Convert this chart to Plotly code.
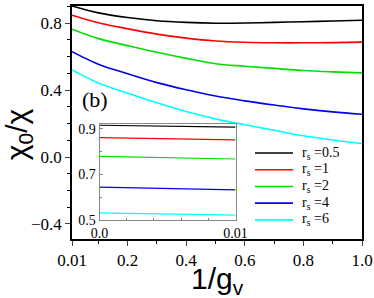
import plotly.graph_objects as go

# main panel data
x_main = [0.01, 0.1, 0.2, 0.3, 0.4, 0.5, 0.6, 0.7, 0.8, 0.9, 1.0]
chi_rs05 = [0.903, 0.862, 0.834, 0.815, 0.805, 0.800, 0.801, 0.805, 0.809, 0.813, 0.818]
chi_rs1 = [0.848, 0.803, 0.767, 0.735, 0.711, 0.694, 0.686, 0.683, 0.683, 0.684, 0.687]
chi_rs2 = [0.764, 0.708, 0.666, 0.626, 0.590, 0.558, 0.543, 0.530, 0.517, 0.509, 0.503]
chi_rs4 = [0.630, 0.555, 0.498, 0.445, 0.402, 0.365, 0.336, 0.311, 0.288, 0.270, 0.256]
chi_rs6 = [0.521, 0.443, 0.382, 0.324, 0.272, 0.228, 0.193, 0.160, 0.127, 0.102, 0.081]

# inset data
x_inset = [0.0, 0.01]
inset_rs05 = [0.915, 0.907]
inset_rs1 = [0.861, 0.851]
inset_rs2 = [0.779, 0.767]
inset_rs4 = [0.644, 0.632]
inset_rs6 = [0.531, 0.521]

rs_labels = ["0.5", "1", "2", "4", "6"]
colors = ["#000000", "#ff0000", "#00dd00", "#0000ee", "#00ffff"]

x_ticks = [0.01, 0.2, 0.4, 0.6, 0.8, 1.0]
x_ticktext = ["0.01", "0.2", "0.4", "0.6", "0.8", "1.0"]
inset_xticks = [0.0, 0.01]
inset_xticktext = ["0.0", "0.01"]
inset_yticks = [0.5, 0.7, 0.9]

serif = "Liberation Serif, Times New Roman, serif"
sans = "Liberation Sans, Arial, sans-serif"

fig = go.Figure()
main_series = [chi_rs05, chi_rs1, chi_rs2, chi_rs4, chi_rs6]
inset_series = [inset_rs05, inset_rs1, inset_rs2, inset_rs4, inset_rs6]
for lab, col, ys in zip(rs_labels, colors, main_series):
    fig.add_trace(go.Scatter(x=x_main, y=ys, mode="lines", line=dict(color=col, width=1.6, shape="spline"),
                             name=f"r<sub>s</sub> ={lab}", showlegend=False))
for lab, col, ys in zip(rs_labels, colors, inset_series):
    fig.add_trace(go.Scatter(x=x_inset, y=ys, mode="lines", line=dict(color=col, width=1.2),
                             xaxis="x2", yaxis="y2", showlegend=False))

# manual legend (key lines + labels), placed in paper coordinates
leg_x0, leg_x1, leg_tx = 0.631, 0.762, 0.786
leg_y_top, leg_dy = 0.369, 0.0717
annotations = [
    dict(text="(b)", x=0.081, y=0.597, xref="paper", yref="paper", showarrow=False,
         xanchor="center", yanchor="middle", font=dict(family=serif, size=22, color="black")),
    dict(text="χ<sub>0</sub>/χ", x=-0.186, y=0.45, xref="paper", yref="paper", showarrow=False,
         textangle=-90, xanchor="center", yanchor="middle", font=dict(family=sans, size=30, color="black")),
    dict(text="1/g<sub>v</sub>", x=0.5, y=-0.178, xref="paper", yref="paper", showarrow=False,
         xanchor="center", yanchor="middle", font=dict(family=sans, size=30, color="black")),
]
shapes = [dict(type="rect", xref="x2 domain", yref="y2 domain", x0=0, x1=1, y0=0, y1=1,
               fillcolor="white", line=dict(width=0), layer="below")]
for i, (lab, col) in enumerate(zip(rs_labels, colors)):
    yy = leg_y_top - i * leg_dy
    shapes.append(dict(type="line", xref="paper", yref="paper", x0=leg_x0, x1=leg_x1, y0=yy, y1=yy,
                       line=dict(color=col, width=1.6)))
    annotations.append(dict(text=f"r<sub>s</sub> ={lab}", x=leg_tx, y=yy, xref="paper", yref="paper",
                            showarrow=False, xanchor="left", yanchor="middle",
                            font=dict(family=serif, size=14, color="black")))

fig.update_layout(
    width=374, height=298,
    margin=dict(l=72, r=12, t=6, b=59, autoexpand=False),
    plot_bgcolor="white", paper_bgcolor="white",
    showlegend=False,
    xaxis=dict(range=[0.01, 1.0], tickvals=x_ticks, ticktext=x_ticktext, ticks="outside", ticklen=5,
               showline=True, linecolor="black", linewidth=1.5, mirror=True, showgrid=False, zeroline=False,
               automargin=False,
               tickfont=dict(family=serif, size=17, color="black"),
               minor=dict(tickvals=[0.1, 0.3, 0.5, 0.7, 0.9], ticks="outside", ticklen=3, tickcolor="black")),
    yaxis=dict(range=[-0.49, 0.903], tick0=0, dtick=0.4, tickformat=".1f", ticks="outside", ticklen=5,
               showline=True, linecolor="black", linewidth=1.5, mirror=True, showgrid=False, zeroline=False,
               automargin=False,
               tickfont=dict(family=serif, size=17, color="black"),
               minor=dict(dtick=0.1, tick0=0, ticks="outside", ticklen=3, tickcolor="black")),
    xaxis2=dict(domain=[0.095, 0.564], anchor="y2", range=[0, 0.01], tickvals=inset_xticks,
                ticktext=inset_xticktext, ticks="inside", ticklen=3, tickcolor="#888",
                showline=True, linecolor="#888", linewidth=1.2, mirror=True, showgrid=False, zeroline=False,
                automargin=False,
                tickfont=dict(family=serif, size=14, color="black"),
                minor=dict(dtick=0.002, tick0=0, ticks="inside", ticklen=2, tickcolor="#888")),
    yaxis2=dict(domain=[0.082, 0.494], anchor="x2", range=[0.5, 0.921], tickvals=inset_yticks,
                ticks="inside", ticklen=3, tickcolor="#888", tickformat=".1f",
                showline=True, linecolor="#888", linewidth=1.2, mirror=True, showgrid=False, zeroline=False,
                automargin=False,
                tickfont=dict(family=serif, size=14, color="black"),
                minor=dict(dtick=0.1, tick0=0, ticks="inside", ticklen=2, tickcolor="#888")),
    annotations=annotations,
    shapes=shapes,
)

fig.write_html("out.html", config={"displayModeBar": False},
               post_script="document.body.style.margin='0';document.body.style.padding='0';")
